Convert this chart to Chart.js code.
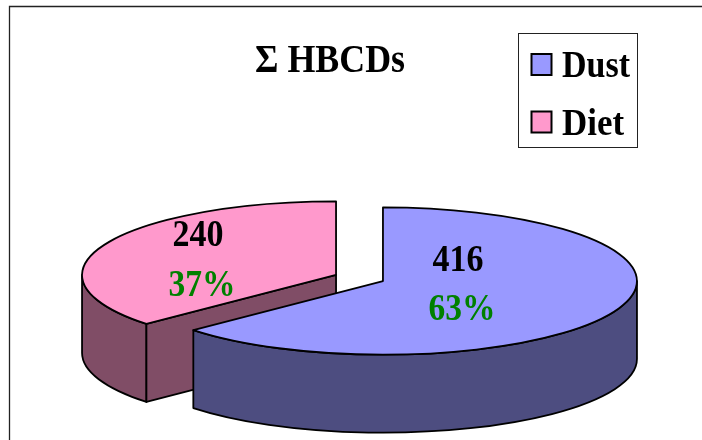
<!DOCTYPE html>
<html>
<head>
<meta charset="utf-8">
<title>HBCDs</title>
<style>
  html, body { margin: 0; padding: 0; background: #fff; }
  canvas { display: block; }
</style>
<script src="https://cdn.jsdelivr.net/npm/chart.js@4/dist/chart.umd.min.js"></script>
</head>
<body>
<canvas id="chart" width="702" height="440"></canvas>
<script>
const chartTitle = 'Σ HBCDs';
const categories = ['Dust', 'Diet'];
const values = [416, 240];
const topColors = ['#9999ff', '#ff99cc'];
const wallColors = ['#4d4d80', '#804d66'];

const SERIF = '"Liberation Serif", "Times New Roman", serif';
const squash = 0.29;       // vertical flattening of the disc
const depth = 78;          // height of the side wall
const sliceGap = 25.7;     // how far each slice is pulled from the centre
const outline = 1.8;

// value label spots, same order as categories: [x, y of number, y of percent]
const labelSpots = [[458, 271, 320], [198, 246, 296]];
// text is set tall and narrow, so widths are held with fillText's maxWidth
const legendWidths = [68, 62];

// shift of one slice along its middle angle, flattened like the disc
function sliceShift(arc) {
    const mid = (arc.startAngle + arc.endAngle) / 2;
    return { x: Math.cos(mid) * sliceGap, y: Math.sin(mid) * sliceGap * squash };
}

// Pie with tilted, exploded slices and side walls
class Pie3dController extends Chart.PieController {
    draw() {
        const ctx = this.chart.ctx;
        const arcs = this.getMeta().data;
        // back slice first so the big one sits in front of it
        for (let i = arcs.length - 1; i >= 0; i--) {
            this.drawSlice(ctx, arcs[i], i);
        }
    }

    drawSlice(ctx, arc, i) {
        const shift = sliceShift(arc);
        const cx = arc.x + shift.x;
        const cy = arc.y + shift.y;
        const r = arc.outerRadius;
        const ry = r * squash;
        const start = arc.startAngle;
        const end = arc.endAngle;

        ctx.save();
        ctx.lineWidth = outline;
        ctx.lineJoin = 'round';
        ctx.strokeStyle = '#000';
        ctx.fillStyle = wallColors[i];

        // outer wall, only the part on the near half of the disc
        const wallFrom = Math.max(start, 0);
        const wallTo = Math.min(end, Math.PI);
        if (wallTo > wallFrom) {
            ctx.beginPath();
            ctx.ellipse(cx, cy, r, ry, 0, wallFrom, wallTo);
            ctx.ellipse(cx, cy + depth, r, ry, 0, wallTo, wallFrom, true);
            ctx.closePath();
            ctx.fill();
            ctx.stroke();
        }

        // cut faces that turn towards the viewer
        [[start, Math.cos(start) < -0.01], [end, Math.cos(end) > 0.01]].forEach(([a, visible]) => {
            if (!visible) return;
            const ex = cx + Math.cos(a) * r;
            const ey = cy + Math.sin(a) * ry;
            ctx.beginPath();
            ctx.moveTo(cx, cy);
            ctx.lineTo(ex, ey);
            ctx.lineTo(ex, ey + depth);
            ctx.lineTo(cx, cy + depth);
            ctx.closePath();
            ctx.fill();
            ctx.stroke();
        });

        // top face is the library's own arc, flattened
        ctx.save();
        ctx.translate(cx, cy);
        ctx.scale(1, squash);
        ctx.translate(-arc.x, -arc.y);
        arc.draw(ctx);
        ctx.restore();

        ctx.beginPath();
        ctx.moveTo(cx, cy);
        ctx.ellipse(cx, cy, r, ry, 0, start, end);
        ctx.closePath();
        ctx.stroke();
        ctx.restore();
    }
}
Pie3dController.id = 'pie3d';
Pie3dController.defaults = Chart.PieController.defaults;
Chart.register(Pie3dController);

// frame, drawn open on the right and at the bottom
const framePlugin = {
    id: 'frame',
    beforeDraw(chart) {
        const { ctx, width, height } = chart;
        ctx.save();
        ctx.strokeStyle = '#222';
        ctx.lineWidth = 1.3;
        ctx.beginPath();
        ctx.moveTo(9.5, height);
        ctx.lineTo(9.5, 6.5);
        ctx.lineTo(width, 6.5);
        ctx.stroke();
        ctx.restore();
    }
};

const textPlugin = {
    id: 'texts',
    afterDraw(chart) {
        const ctx = chart.ctx;
        const total = values.reduce((a, b) => a + b, 0);
        ctx.save();

        ctx.fillStyle = '#000';
        ctx.textAlign = 'center';
        ctx.textBaseline = 'alphabetic';
        ctx.font = 'bold 40px ' + SERIF;
        ctx.fillText(chartTitle, 330, 72, 150);

        values.forEach((v, i) => {
            const [x, yNum, yPct] = labelSpots[i];
            ctx.font = 'bold 38px ' + SERIF;
            ctx.fillStyle = '#000';
            ctx.fillText(String(v), x, yNum, 51);
            ctx.fillStyle = '#008000';
            ctx.fillText(Math.round(v / total * 100) + '%', x + 4, yPct, 67);
        });

        // legend box
        ctx.fillStyle = '#fff';
        ctx.strokeStyle = '#222';
        ctx.lineWidth = 1;
        ctx.fillRect(518.5, 33.5, 119, 114);
        ctx.strokeRect(518.5, 33.5, 119, 114);

        ctx.textAlign = 'left';
        ctx.font = 'bold 38px ' + SERIF;
        categories.forEach((name, i) => {
            const rowY = 54 + i * 57.5;
            ctx.fillStyle = topColors[i];
            ctx.fillRect(531.5, rowY, 20, 21);
            ctx.strokeStyle = '#000';
            ctx.lineWidth = 2;
            ctx.strokeRect(531.5, rowY, 20, 21);
            ctx.fillStyle = '#000';
            ctx.fillText(name, 562, rowY + 23, legendWidths[i]);
        });
        ctx.restore();
    }
};

new Chart(document.getElementById('chart'), {
    type: 'pie3d',
    data: {
        labels: categories,
        datasets: [{
            data: values,
            backgroundColor: topColors,
            borderWidth: 0,
            clip: false
        }]
    },
    options: {
        responsive: false,
        animation: false,
        radius: 254,
        layout: { padding: { left: 17, top: 116 } },
        plugins: {
            legend: { display: false },
            tooltip: { enabled: false }
        }
    },
    plugins: [framePlugin, textPlugin]
});
</script>
</body>
</html>
